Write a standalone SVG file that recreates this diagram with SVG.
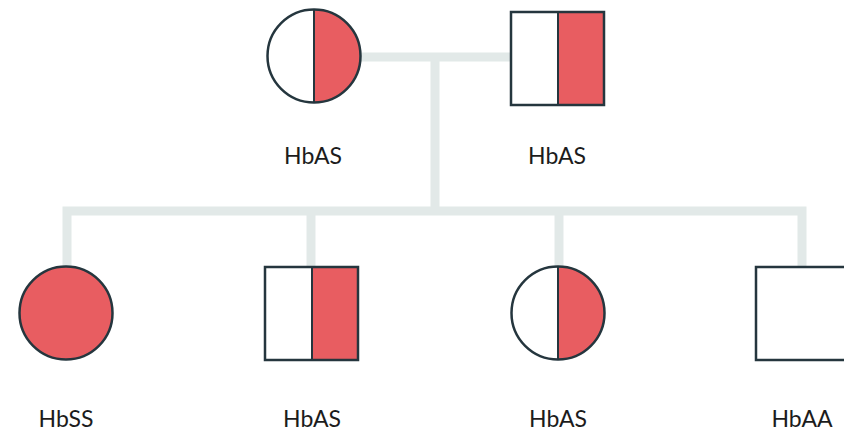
<svg xmlns="http://www.w3.org/2000/svg" width="844" height="436" viewBox="0 0 844 436">
  <style>
    .line { fill: none; stroke: #e2e9e8; stroke-width: 9; }
    .shape { stroke: #25363e; stroke-width: 2.5; }
    .open { fill: #ffffff; }
    .red { fill: #e85d61; }
    .divider { stroke: #25363e; stroke-width: 2; }
    .label { font-family: Lato, "Open Sans", "Liberation Sans", sans-serif; font-size: 23px; fill: #1c1c1c; text-anchor: middle; }
  </style>
  <rect width="844" height="436" fill="#ffffff"/>

  <!-- connectors -->
  <g id="connectors">
    <line class="line" x1="358" y1="57" x2="512" y2="57"/>
    <line class="line" x1="435" y1="57" x2="435" y2="212"/>
    <polyline class="line" points="67,267 67,211 802,211 802,267"/>
    <line class="line" x1="311" y1="211" x2="311" y2="267"/>
    <line class="line" x1="559" y1="211" x2="559" y2="267"/>
  </g>

  <!-- mother: carrier -->
  <g id="mother">
    <circle class="open" cx="314" cy="56" r="46.5"/>
    <path class="red" d="M314 9.5 A46.5 46.5 0 0 1 314 102.5 Z"/>
    <circle class="shape" cx="314" cy="56" r="46.5" fill="none"/>
    <line class="divider" x1="314" y1="9.5" x2="314" y2="102.5"/>
    <text class="label" x="313" y="164">HbAS</text>
  </g>

  <!-- father: carrier -->
  <g id="father">
    <rect class="open" x="511" y="12" width="47" height="93"/>
    <rect class="red" x="558" y="12" width="46" height="93"/>
    <rect class="shape" x="511" y="12" width="93" height="93" fill="none"/>
    <line class="divider" x1="558" y1="12" x2="558" y2="105"/>
    <text class="label" x="557" y="164">HbAS</text>
  </g>

  <!-- child 1: affected -->
  <g id="child1">
    <circle class="shape red" cx="66" cy="313" r="46.5"/>
    <text class="label" x="66" y="427">HbSS</text>
  </g>

  <!-- child 2: carrier son -->
  <g id="child2">
    <rect class="open" x="265" y="267" width="47" height="93"/>
    <rect class="red" x="312" y="267" width="46" height="93"/>
    <rect class="shape" x="265" y="267" width="93" height="93" fill="none"/>
    <line class="divider" x1="312" y1="267" x2="312" y2="360"/>
    <text class="label" x="312" y="427">HbAS</text>
  </g>

  <!-- child 3: carrier daughter -->
  <g id="child3">
    <circle class="open" cx="558" cy="313" r="46.5"/>
    <path class="red" d="M558 266.5 A46.5 46.5 0 0 1 558 359.5 Z"/>
    <circle class="shape" cx="558" cy="313" r="46.5" fill="none"/>
    <line class="divider" x1="558" y1="266.5" x2="558" y2="359.5"/>
    <text class="label" x="558" y="427">HbAS</text>
  </g>

  <!-- child 4: unaffected -->
  <g id="child4">
    <rect class="shape open" x="756" y="267" width="93" height="93"/>
    <text class="label" x="802" y="427">HbAA</text>
  </g>
</svg>
